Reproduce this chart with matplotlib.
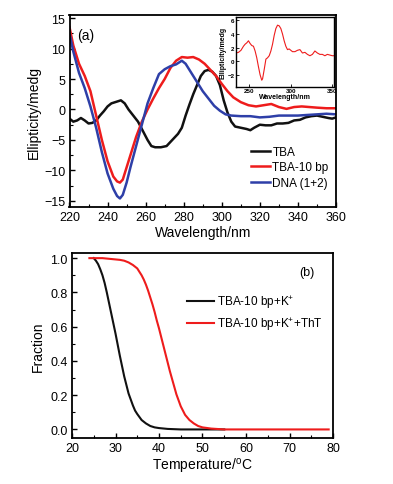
import matplotlib
matplotlib.use("Agg")
import matplotlib.pyplot as plt
import numpy as np
from matplotlib.ticker import MultipleLocator

plt.rcParams['font.family'] = ['Liberation Sans', 'DejaVu Sans']
plt.rcParams['mathtext.fontset'] = 'custom'
plt.rcParams['mathtext.rm'] = 'Liberation Sans'

# ---- panel (a) CD spectra ----
tba_x = [220, 222, 224, 226, 228, 230, 232, 234, 236, 238, 240, 242, 245, 247, 249, 251, 253, 256, 259, 261, 263, 265, 268, 271, 274, 277, 279, 281, 283, 285, 287, 289, 291, 293, 295, 297, 299, 301, 303, 305, 307, 310, 313, 315, 317, 320, 323, 326, 329, 332, 335, 338, 341, 344, 347, 350, 353, 356, 358, 360]
tba_y = [-1.5, -2.0, -1.8, -1.4, -1.8, -2.3, -2.2, -1.8, -1.0, -0.3, 0.5, 1.0, 1.3, 1.5, 1.0, 0.0, -0.8, -2.0, -3.8, -5.0, -6.0, -6.2, -6.2, -6.0, -5.0, -4.0, -3.0, -1.0, 0.8, 2.5, 4.0, 5.5, 6.3, 6.5, 6.2, 5.5, 4.0, 1.5, -0.5, -2.0, -2.8, -3.0, -3.2, -3.4, -3.0, -2.5, -2.6, -2.6, -2.3, -2.3, -2.2, -1.8, -1.7, -1.3, -1.1, -1.0, -1.2, -1.4, -1.5, -1.3]

tba10_x = [220, 222, 225, 228, 231, 234, 237, 240, 243, 245, 246.5, 248, 250, 252, 255, 258, 261, 264, 267, 270, 273, 276, 279, 282, 285, 288, 291, 294, 297, 300, 303, 306, 310, 314, 318, 322, 326, 330, 334, 338, 342, 346, 350, 355, 360]
tba10_y = [13.5, 10.5, 7.5, 5.5, 3.0, -1.0, -5.0, -8.5, -11.0, -11.8, -12.0, -11.5, -9.5, -7.5, -4.5, -2.0, 0.0, 1.8, 3.5, 5.0, 6.8, 8.0, 8.6, 8.5, 8.6, 8.2, 7.5, 6.5, 5.5, 4.2, 3.0, 2.0, 1.2, 0.7, 0.5, 0.7, 0.9, 0.4, 0.1, 0.4, 0.5, 0.4, 0.3, 0.2, 0.2]

dna_x = [220, 222, 225, 228, 231, 234, 237, 240, 243, 245, 246.5, 248, 250, 252, 255, 258, 261, 264, 267, 270, 273, 276, 279, 281, 284, 287, 290, 293, 296, 299, 302, 305, 310, 315, 320, 325, 330, 335, 340, 345, 350, 355, 360]
dna_y = [12.5, 9.5, 6.0, 3.5, 0.5, -3.0, -7.0, -10.5, -13.0, -14.2, -14.6, -14.0, -12.0, -9.5, -6.0, -2.5, 1.0, 3.5, 5.8, 6.6, 7.1, 7.4, 8.0, 7.5, 6.0, 4.5, 3.0, 1.8, 0.6, -0.2, -0.8, -1.0, -1.1, -1.1, -1.3, -1.2, -1.0, -1.0, -1.0, -0.9, -0.8, -0.7, -0.8]

inset_x = [234, 237, 240, 243, 245, 247, 249, 251, 253, 255, 257, 259, 261, 263, 265, 266, 268, 270, 272, 274, 276, 278, 280, 282, 284, 286, 288, 290, 292, 294, 296, 298, 300, 302, 305, 308, 311, 314, 317, 320, 323, 326, 329, 332, 335, 338, 341, 344, 347, 350, 352]
inset_y = [1.2, 1.3, 1.6, 2.2, 2.5, 2.7, 3.0, 2.6, 2.3, 2.2, 1.5, 0.5, -0.8, -2.0, -2.8, -2.6, -1.2, 0.3, 0.5, 0.8, 1.5, 2.5, 3.8, 4.8, 5.3, 5.2, 4.8, 4.0, 3.0, 2.2, 1.7, 1.8, 1.6, 1.4, 1.4, 1.6, 1.7, 1.2, 1.3, 1.0, 0.8, 1.0, 1.5, 1.2, 1.0, 1.0, 0.8, 1.0, 0.9, 0.8, 0.8]

# ---- panel (b) melting ----
m1_x = [25, 25.5, 26, 26.5, 27, 27.5, 28, 28.5, 29, 29.5, 30, 30.5, 31, 31.5, 32, 32.5, 33, 33.5, 34, 34.5, 35, 36, 37, 38, 39, 40, 42, 45, 50, 55]
m1_y = [1.0, 0.985, 0.965, 0.935, 0.9, 0.855, 0.8, 0.74, 0.68, 0.62, 0.56, 0.495, 0.43, 0.37, 0.31, 0.26, 0.21, 0.175, 0.14, 0.11, 0.09, 0.055, 0.035, 0.02, 0.012, 0.008, 0.003, 0.0, 0.0, 0.0]
m2_x = [24, 27, 29, 31, 32, 33, 34, 35, 35.5, 36, 36.5, 37, 37.5, 38, 38.5, 39, 39.5, 40, 40.5, 41, 41.5, 42, 42.5, 43, 43.5, 44, 44.5, 45, 45.5, 46, 47, 48, 49, 50, 52, 55, 60, 70, 79]
m2_y = [1.0, 1.0, 0.995, 0.99, 0.985, 0.975, 0.96, 0.94, 0.92, 0.9, 0.875, 0.845, 0.81, 0.77, 0.73, 0.685, 0.635, 0.59, 0.54, 0.49, 0.44, 0.39, 0.34, 0.295, 0.25, 0.205, 0.17, 0.135, 0.11, 0.085, 0.055, 0.035, 0.02, 0.012, 0.005, 0.0, 0.0, 0.0, 0.0]

fig = plt.figure(figsize=(3.93, 4.85), dpi=100)
W, H = 393, 485

def add_ax(l, t, r, b):
    return fig.add_axes([l / W, 1 - b / H, (r - l) / W, (b - t) / H])

ax1 = add_ax(69.5, 16, 336, 208)
ax1.plot(tba_x, tba_y, color='#111111', lw=1.8, label='TBA')
ax1.plot(tba10_x, tba10_y, color='#ee1c1c', lw=1.8, label='TBA-10 bp')
ax1.plot(dna_x, dna_y, color='#2e3fa8', lw=1.8, label='DNA (1+2)')
ax1.set_xlim(220, 360)
ax1.set_ylim(-16, 15.5)
ax1.xaxis.set_major_locator(MultipleLocator(20))
ax1.xaxis.set_minor_locator(MultipleLocator(10))
ax1.yaxis.set_major_locator(MultipleLocator(5))
ax1.yaxis.set_minor_locator(MultipleLocator(2.5))
ax1.set_xlabel('Wavelength/nm', fontsize=10, labelpad=1)
ax1.set_ylabel('Ellipticity/medg', fontsize=10, labelpad=2)
ax1.text(0.03, 0.93, '(a)', transform=ax1.transAxes, fontsize=10, va='top')
ax1.legend(loc='lower right', bbox_to_anchor=(0.99, 0.07), frameon=False, fontsize=8.5,
           handlelength=1.6, handletextpad=0.2, labelspacing=0.3, borderaxespad=0)

axi = add_ax(236, 18, 334, 88)
axi.plot(inset_x, inset_y, color='#ee1c1c', lw=0.8)
axi.set_xlim(234, 352)
axi.set_ylim(-3.8, 6.5)
axi.set_xticks([250, 300, 350])
axi.set_yticks([-2, 0, 2, 4, 6])
axi.tick_params(labelsize=4.5, length=2, width=0.6, direction='in', pad=1)
for lab in axi.get_xticklabels() + axi.get_yticklabels():
    lab.set_fontweight('bold')
axi.set_xlabel('Wavelength/nm', fontsize=5, fontweight='bold', labelpad=0)
axi.set_ylabel('Ellipticity/medg', fontsize=5, fontweight='bold', labelpad=1)
for s in axi.spines.values():
    s.set_linewidth(1.0)

ax2 = add_ax(72, 254, 333, 439)
ax2.plot(m1_x, m1_y, color='#111111', lw=1.5, label='TBA-10 bp+K$^{+}$')
ax2.plot(m2_x, m2_y, color='#ee1c1c', lw=1.5, label='TBA-10 bp+K$^{+}$+ThT')
ax2.set_xlim(20, 80)
ax2.set_ylim(-0.05, 1.03)
ax2.xaxis.set_major_locator(MultipleLocator(10))
ax2.xaxis.set_minor_locator(MultipleLocator(5))
ax2.yaxis.set_major_locator(MultipleLocator(0.2))
ax2.yaxis.set_minor_locator(MultipleLocator(0.1))
ax2.yaxis.set_major_formatter(matplotlib.ticker.FormatStrFormatter('%.1f'))
ax2.set_xlabel('Temperature/$^{\\rm o}$C', fontsize=10, labelpad=1)
ax2.set_ylabel('Fraction', fontsize=10, labelpad=4)
ax2.text(0.93, 0.93, '(b)', transform=ax2.transAxes, fontsize=9, va='top', ha='right')
ax2.legend(loc='upper right', bbox_to_anchor=(0.98, 0.81), frameon=False, fontsize=8.5,
           handlelength=2.3, handletextpad=0.3, labelspacing=0.45, borderaxespad=0)

for ax in (ax1, ax2):
    ax.tick_params(which='major', direction='in', length=3.5, width=1.0, labelsize=9, pad=3,
                   top=False, right=False)
    ax.tick_params(which='minor', direction='in', length=2, width=0.8, top=False, right=False)
    for s in ax.spines.values():
        s.set_linewidth(1.3)

fig.savefig('out.png', dpi=100)
